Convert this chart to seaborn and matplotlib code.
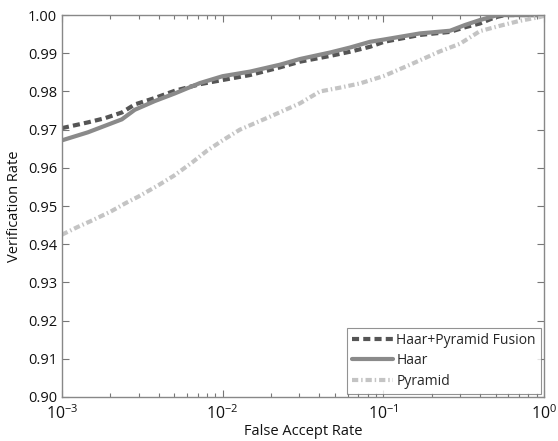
import matplotlib
matplotlib.use("Agg")
import matplotlib.pyplot as plt
import seaborn as sns
import numpy as np
import pandas as pd
from matplotlib.ticker import LogLocator, NullFormatter, FixedLocator

# ---- data ----
fusion_far = [0.001, 0.00145, 0.00185, 0.00236, 0.00284, 0.00379, 0.00505, 0.00722, 0.0100,
              0.0148, 0.0227, 0.0303, 0.0466, 0.0620, 0.0826, 0.1009, 0.169, 0.260, 0.322,
              0.399, 0.494, 0.572, 1.0]
fusion_vr = [0.9704, 0.9719, 0.9730, 0.9745, 0.9766, 0.9783, 0.9802, 0.9819, 0.9830,
             0.9843, 0.9863, 0.9878, 0.9893, 0.9904, 0.9917, 0.9930, 0.9948, 0.9956, 0.9968,
             0.9978, 0.9994, 1.0, 1.0]

haar_far = [0.001, 0.00145, 0.00185, 0.00236, 0.00284, 0.00379, 0.00505, 0.00722, 0.0100,
            0.0148, 0.0227, 0.0303, 0.0466, 0.0620, 0.0826, 0.1009, 0.169, 0.260, 0.322,
            0.399, 0.494, 0.532, 1.0]
haar_vr = [0.9672, 0.9693, 0.9710, 0.9727, 0.9752, 0.9775, 0.9795, 0.9822, 0.9840,
           0.9852, 0.9870, 0.9885, 0.9902, 0.9915, 0.9930, 0.9936, 0.9952, 0.9959, 0.9974,
           0.9987, 0.9998, 1.0, 1.0]

pyr_far = [0.001, 0.00125, 0.0015, 0.002, 0.0025, 0.003, 0.004, 0.005, 0.0065, 0.008,
           0.01, 0.0128, 0.0197, 0.0303, 0.0403, 0.0537, 0.0715, 0.1, 0.1465, 0.225,
           0.300, 0.399, 0.532, 0.708, 0.942, 1.0]
pyr_vr = [0.9425, 0.9445, 0.9460, 0.9485, 0.9508, 0.9525, 0.9555, 0.9580, 0.9615, 0.9645,
          0.9672, 0.9700, 0.9734, 0.9769, 0.9800, 0.9810, 0.9821, 0.9840, 0.9870, 0.9905,
          0.9925, 0.9958, 0.9972, 0.9985, 0.9995, 0.9998]

labels = ["Haar+Pyramid Fusion", "Haar", "Pyramid"]
x_ticks = [1e-3, 1e-2, 1e-1, 1e0]
x_ticklabels = [r"$10^{-3}$", r"$10^{-2}$", r"$10^{-1}$", r"$10^{0}$"]
y_ticks = [0.90, 0.91, 0.92, 0.93, 0.94, 0.95, 0.96, 0.97, 0.98, 0.99, 1.00]

sns.set_theme(style="white")
plt.rcParams['font.family'] = ['Open Sans', 'DejaVu Sans']
plt.rcParams['mathtext.fontset'] = 'custom'
plt.rcParams['mathtext.rm'] = 'Open Sans'
plt.rcParams['mathtext.it'] = 'Open Sans'

fig = plt.figure(figsize=(5.58, 4.41), dpi=100)
ax = fig.add_axes([0.111, 0.0998, 0.864, 0.866])

series = [
    (fusion_far, fusion_vr, labels[0], "#555555", (0, (1.7, 1.0))),
    (haar_far, haar_vr, labels[1], "#8a8a8a", "-"),
    (pyr_far, pyr_vr, labels[2], "#c4c4c4", (0, (1.5, 0.7, 0.35, 0.7))),
]
for far, vr, lab, col, ls in series:
    df = pd.DataFrame({"far": far, "vr": vr})
    sns.lineplot(data=df, x="far", y="vr", ax=ax, color=col, linewidth=3,
                 linestyle=ls, label=lab, estimator=None, sort=False)

ax.set_xscale("log")
ax.set_xlim(1e-3, 1)
ax.set_ylim(0.90, 1.00)
ax.xaxis.set_major_locator(FixedLocator(x_ticks))
ax.set_xticklabels(x_ticklabels)
ax.xaxis.set_minor_locator(LogLocator(base=10, subs=np.arange(2, 10)))
ax.xaxis.set_minor_formatter(NullFormatter())
ax.set_yticks(y_ticks)
ax.set_yticklabels([f"{v:.2f}" for v in y_ticks])

ax.tick_params(axis="both", which="both", direction="in", top=True, right=True,
               bottom=True, left=True, colors="#777777", labelcolor="#111111",
               labelsize=10.5)
ax.tick_params(axis="both", which="major", length=5, width=0.8)
ax.tick_params(axis="x", which="minor", length=3, width=0.8)
ax.tick_params(axis="x", which="major", pad=5, labelsize=11.5)
for sp in ax.spines.values():
    sp.set_color("#888888")
    sp.set_linewidth(1.0)

ax.set_xlabel("False Accept Rate", fontsize=10.5, color="#111111", labelpad=1)
ax.set_ylabel("Verification Rate", fontsize=10.5, color="#111111", labelpad=4)

leg = ax.legend(loc="lower right", fontsize=10, frameon=True, fancybox=False,
                handlelength=3.0, handletextpad=0.2, borderpad=0.35,
                labelspacing=0.4, borderaxespad=0.25)
leg.get_frame().set_edgecolor("#777777")
leg.get_frame().set_linewidth(0.8)

fig.savefig("out.png", dpi=100)
